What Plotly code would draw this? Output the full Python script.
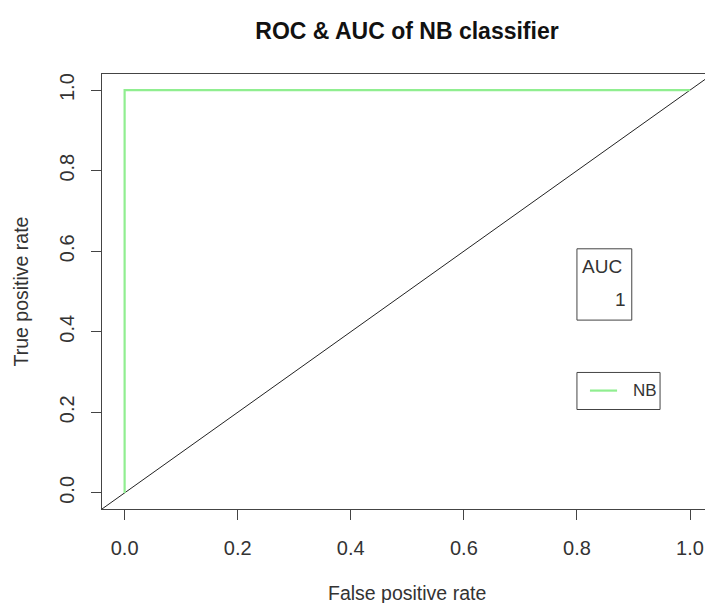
import plotly.graph_objects as go

# ROC curve of NB classifier
fpr = [0.0, 0.0, 1.0]
tpr = [0.0, 1.0, 1.0]
auc_value = 1
model_name = "NB"
tick_vals = [0.0, 0.2, 0.4, 0.6, 0.8, 1.0]
tick_text = ["0.0", "0.2", "0.4", "0.6", "0.8", "1.0"]
abline_a, abline_b = 0.0, 1.0

x_range = [-0.04, 1.0265]
y_range = [-0.04, 1.04]

FONT = "Liberation Sans, Arial, sans-serif"
TXT = "#333333"
GREEN = "#90EE90"
FRAME = "#444444"

fig = go.Figure()

# reference diagonal (abline a=0, b=1) across the plot region
dx = [x_range[0] - 0.1, x_range[1] + 0.1]
dy = [abline_a + abline_b * v for v in dx]
fig.add_trace(go.Scatter(x=dx, y=dy, mode="lines",
                         line=dict(color="#222222", width=1), showlegend=False,
                         hoverinfo="skip"))

# ROC curve
fig.add_trace(go.Scatter(x=fpr, y=tpr, mode="lines",
                         line=dict(color=GREEN, width=2.2), showlegend=False,
                         name=model_name))

# legend-like boxes
fig.add_shape(type="rect", xref="x", yref="y", x0=0.80, x1=0.897, y0=0.429, y1=0.606,
              line=dict(color=FRAME, width=1), fillcolor="white")
fig.add_annotation(x=0.805, y=0.561, xref="x", yref="y", text="AUC", showarrow=False,
                   xanchor="left", yanchor="middle", font=dict(size=19, color=TXT, family=FONT))
fig.add_annotation(x=0.891, y=0.479, xref="x", yref="y", text=str(auc_value), showarrow=False,
                   xanchor="right", yanchor="middle", font=dict(size=19, color=TXT, family=FONT))

fig.add_shape(type="rect", xref="x", yref="y", x0=0.80, x1=0.947, y0=0.207, y1=0.299,
              line=dict(color=FRAME, width=1), fillcolor="white")
fig.add_shape(type="line", xref="x", yref="y", x0=0.823, x1=0.871, y0=0.254, y1=0.254,
              line=dict(color=GREEN, width=2.2))
fig.add_annotation(x=0.895, y=0.254, xref="x", yref="y", text=model_name, showarrow=False,
                   xanchor="left", yanchor="middle", font=dict(size=17, color=TXT, family=FONT))

# axis titles
fig.add_annotation(x=(407 - 102) / 603, y=(509 - 593) / 435, xref="paper", yref="paper",
                   text="False positive rate", showarrow=False, xanchor="center", yanchor="middle",
                   font=dict(size=19.5, color=TXT, family=FONT))
fig.add_annotation(x=(20 - 102) / 603, y=0.5, xref="paper", yref="paper",
                   text="True positive rate", showarrow=False, textangle=-90,
                   xanchor="center", yanchor="middle",
                   font=dict(size=19.5, color=TXT, family=FONT))

fig.update_layout(
    width=705, height=603,
    margin=dict(l=102, r=0, t=74, b=94),
    paper_bgcolor="white", plot_bgcolor="white",
    title=dict(text="<b>ROC & AUC of NB classifier</b>", x=(407) / 705, xanchor="center",
               y=1 - 31 / 603, yanchor="middle",
               font=dict(size=23, color="#111111", family=FONT)),
    xaxis=dict(range=x_range, tickvals=tick_vals, ticktext=tick_text,
               showgrid=False, zeroline=False, showline=True, mirror=True,
               linecolor=FRAME, linewidth=1, ticks="outside", ticklen=10,
               tickcolor=FRAME, ticklabelstandoff=11,
               tickfont=dict(size=20, color=TXT, family=FONT)),
    yaxis=dict(range=y_range, tickvals=tick_vals, ticktext=tick_text,
               showgrid=False, zeroline=False, showline=True, mirror=False,
               linecolor=FRAME, linewidth=1, ticks="outside", ticklen=10,
               tickcolor=FRAME, tickangle=-90, ticklabelstandoff=9,
               tickfont=dict(size=20, color=TXT, family=FONT)),
)

fig.write_html("out.html")
